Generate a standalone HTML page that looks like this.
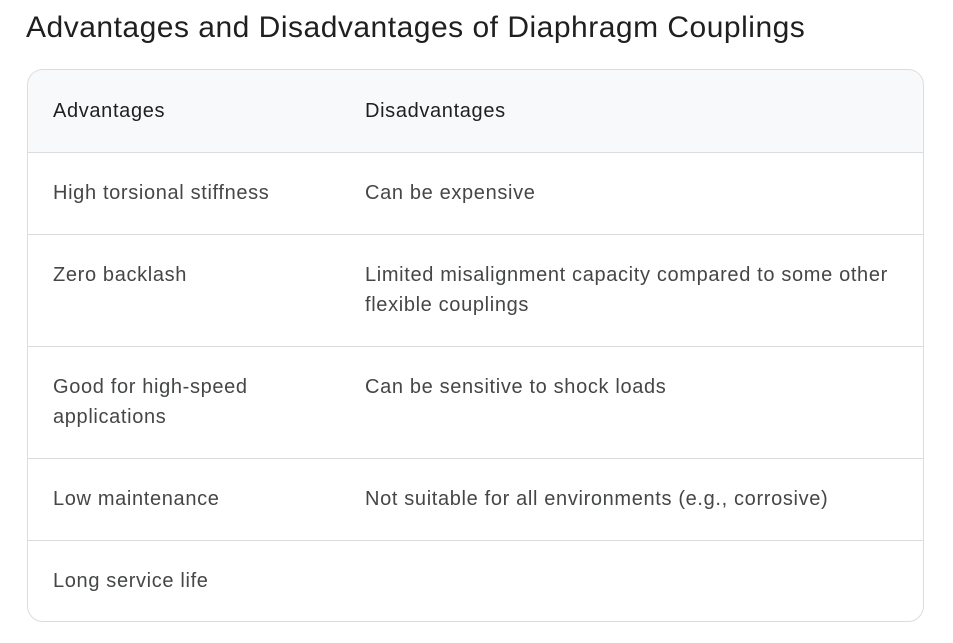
<!DOCTYPE html>
<html><head><meta charset="utf-8"><style>
body{margin:0;background:#fff;font-family:"Liberation Sans",sans-serif;width:953px;height:643px;overflow:hidden}
h1{position:absolute;left:26px;top:11px;margin:0;font-weight:400;font-size:30px;letter-spacing:0.5px;color:#1f1f1f;white-space:nowrap}
.tbl{position:absolute;left:27px;top:69px;width:897px;height:553px;border:1px solid #dadce0;border-radius:16px;overflow:hidden;box-sizing:border-box}
.row{position:absolute;left:0;width:100%;border-top:1px solid #dadce0;box-sizing:border-box}
.c{position:absolute;font-size:20px;letter-spacing:0.65px;color:#444746;line-height:30px}
.hd{background:#f8f9fa}
.hd .c{color:#1f1f1f}
</style></head><body>
<h1>Advantages and Disadvantages of Diaphragm Couplings</h1>
<div class="tbl">
<div class="row hd" style="top:0;height:83px;border-top:none">
<div class="c" style="left:25px;top:26px">Advantages</div>
<div class="c" style="left:337px;top:26px">Disadvantages</div></div>
<div class="row" style="top:82px;height:82px">
<div class="c" style="left:25px;top:25px">High torsional stiffness</div>
<div class="c" style="left:337px;top:25px">Can be expensive</div></div>
<div class="row" style="top:164px;height:112px">
<div class="c" style="left:25px;top:25px">Zero backlash</div>
<div class="c" style="left:337px;top:25px;width:550px">Limited misalignment capacity compared to some other flexible couplings</div></div>
<div class="row" style="top:276px;height:112px">
<div class="c" style="left:25px;top:25px;width:240px">Good for high-speed applications</div>
<div class="c" style="left:337px;top:25px">Can be sensitive to shock loads</div></div>
<div class="row" style="top:388px;height:82px">
<div class="c" style="left:25px;top:25px">Low maintenance</div>
<div class="c" style="left:337px;top:25px">Not suitable for all environments (e.g., corrosive)</div></div>
<div class="row" style="top:470px;height:83px">
<div class="c" style="left:25px;top:25px">Long service life</div></div>
</div>
</body></html>
